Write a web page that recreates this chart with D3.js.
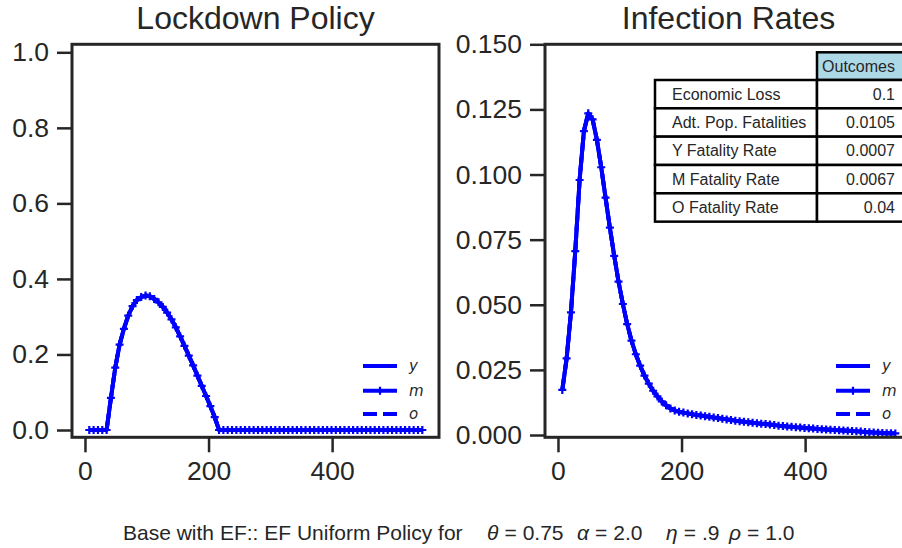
<!DOCTYPE html>
<html><head><meta charset="utf-8">
<script src="https://cdn.jsdelivr.net/npm/d3@7"></script>
<style>body{margin:0;background:#fff}svg{display:block}</style>
</head><body>
<svg id="c" width="902" height="548"></svg>
<script>
// ---- data ----
const days = [7,14,21,28,35,42,49,56,63,70,77,84,91,98,105,112,119,126,133,140,147,154,161,168,175,182,189,196,203,210,217,224,231,238,245,252,259,266,273,280,287,294,301,308,315,322,329,336,343,350,357,364,371,378,385,392,399,406,413,420,427,434,441,448,455,462,469,476,483,490,497,504,511,518,525,532,539,546];
const lockdownY = [0,0,0,0,0,0.085,0.165,0.226,0.268,0.303,0.328,0.344,0.352,0.356,0.354,0.347,0.338,0.326,0.311,0.293,0.272,0.248,0.223,0.197,0.171,0.144,0.117,0.090,0.063,0.034,0,0,0,0,0,0,0,0,0,0,0,0,0,0,0,0,0,0,0,0,0,0,0,0,0,0,0,0,0,0,0,0,0,0,0,0,0,0,0,0,0,0,0,0,0,0,0,0];
const lockdownM = lockdownY;
const lockdownO = lockdownY;
const infectionY = [0.0173,0.0294,0.0471,0.0706,0.0979,0.1167,0.1235,0.1212,0.1133,0.1028,0.0911,0.0796,0.0688,0.0589,0.0503,0.0426,0.0362,0.0310,0.0266,0.0228,0.0197,0.0170,0.0148,0.0129,0.0114,0.0102,0.0094,0.0089,0.0086,0.0083,0.0080,0.0077,0.0075,0.0072,0.0070,0.0067,0.0065,0.0062,0.0060,0.0058,0.0055,0.0053,0.0051,0.0049,0.0047,0.0045,0.0043,0.0042,0.0040,0.0038,0.0036,0.0035,0.0033,0.0032,0.0030,0.0029,0.0027,0.0026,0.0025,0.0023,0.0022,0.0021,0.0020,0.0019,0.0018,0.0017,0.0016,0.0015,0.0014,0.0013,0.0012,0.0011,0.0010,0.0009,0.0008,0.0007,0.0007,0.0006];
const infectionM = infectionY;
const infectionO = infectionY;
const seriesNames = ["y","m","o"];
const xTicks = [0,200,400];
const lockdownTicks = [0,0.2,0.4,0.6,0.8,1.0];
const infectionTicks = [0,0.025,0.05,0.075,0.1,0.125,0.15];
const tableRows = ["Economic Loss","Adt. Pop. Fatalities","Y Fatality Rate","M Fatality Rate","O Fatality Rate"];
const tableValues = ["0.1","0.0105","0.0007","0.0067","0.04"];
const tableHeader = "Outcomes";

// ---- drawing ----
const svg = d3.select("#c");
const INK = "#262626", BLUE = "#0000ff";
const FONT = "'Liberation Sans', Arial, sans-serif";
const TOP = 44.3, BOT = 437.3;
const PLUS = "M-4,0H4M0,-4V4";

function panel(o) {
  const g = svg.append("g");
  const x = d3.scaleLinear().domain([-21, 573]).range([o.x0, o.x1]);
  const y = d3.scaleLinear().domain(o.ydom).range([BOT, TOP]);
  const clipId = "clip" + o.x0;
  g.append("clipPath").attr("id", clipId).append("rect")
    .attr("x", o.x0).attr("y", TOP).attr("width", o.x1 - o.x0).attr("height", BOT - TOP);

  const ya = g.append("g").attr("transform", `translate(${o.x0},0)`)
    .call(d3.axisLeft(y).tickValues(o.yticks).tickFormat(d3.format(o.yfmt)).tickSize(15).tickPadding(8));
  const xa = g.append("g").attr("transform", `translate(0,${BOT})`)
    .call(d3.axisBottom(x).tickValues(xTicks).tickFormat(d3.format("d")).tickSize(15).tickPadding(9));
  [ya, xa].forEach(a => {
    a.select(".domain").remove();
    a.selectAll("line").attr("stroke", INK).attr("stroke-width", 2.5);
    a.selectAll("text").attr("fill", INK).style("font-family", FONT).style("font-size", "26.5px");
  });
  xa.selectAll("text").attr("dy", "0.7em");

  const line = d3.line().x(d => x(d[0])).y(d => y(d[1]));
  const plot = g.append("g").attr("clip-path", `url(#${clipId})`);
  const styles = [{dash: null, marker: false}, {dash: null, marker: true}, {dash: "14,6", marker: false}];
  o.data.forEach((ser, k) => {
    const p = ser.map((v, i) => [days[i], v]);
    plot.append("path").datum(p).attr("d", line).attr("fill", "none")
      .attr("stroke", BLUE).attr("stroke-width", 4).attr("stroke-linejoin", "round")
      .attr("stroke-dasharray", styles[k].dash);
    if (styles[k].marker) {
      plot.selectAll(null).data(p).enter().append("path")
        .attr("transform", d => `translate(${x(d[0])},${y(d[1])})`)
        .attr("d", PLUS).attr("stroke", BLUE).attr("stroke-width", 2.2);
    }
  });

  g.append("rect").attr("x", o.x0).attr("y", TOP).attr("width", o.x1 - o.x0).attr("height", BOT - TOP)
    .attr("fill", "none").attr("stroke", INK).attr("stroke-width", 3);

  g.append("text").attr("x", (o.x0 + o.x1) / 2).attr("y", 29).attr("text-anchor", "middle")
    .attr("fill", INK).style("font-family", FONT).style("font-size", "32px").text(o.title);

  const ly = [366, 390.7, 414];
  seriesNames.forEach((n, k) => {
    const lg = g.append("g");
    lg.append("line").attr("x1", o.lx).attr("x2", o.lx + 34).attr("y1", ly[k]).attr("y2", ly[k])
      .attr("stroke", BLUE).attr("stroke-width", 4).attr("stroke-dasharray", styles[k].dash);
    if (styles[k].marker) {
      lg.append("path").attr("transform", `translate(${o.lx + 17},${ly[k]})`)
        .attr("d", PLUS).attr("stroke", BLUE).attr("stroke-width", 2.2);
    }
    lg.append("text").attr("x", o.lx + 46).attr("y", ly[k]).attr("dy", "0.32em")
      .attr("fill", INK).style("font-family", "'DejaVu Sans', sans-serif").style("font-style", "italic")
      .style("font-size", "15px").text(n);
  });
}

panel({x0: 72, x1: 439, ydom: [-0.0193, 1.0212], yticks: lockdownTicks, yfmt: ".1f",
  data: [lockdownY, lockdownM, lockdownO], title: "Lockdown Policy", lx: 363});
panel({x0: 545, x1: 912, ydom: [-0.00088, 0.15], yticks: infectionTicks, yfmt: ".3f",
  data: [infectionY, infectionM, infectionO], title: "Infection Rates", lx: 836});

// table
const tg = svg.append("g");
const c0 = 655, c1 = 817, c2 = 925, hTop = 52.3, r0 = 80, rh = 28.33;
const TF = "16px";
tg.append("rect").attr("x", c1).attr("y", hTop).attr("width", c2 - c1).attr("height", r0 - hTop)
  .attr("fill", "#add8e6").attr("stroke", "#000").attr("stroke-width", 2.5);
tg.append("text").attr("x", 895).attr("y", (hTop + r0) / 2).attr("dy", "0.35em").attr("text-anchor", "end")
  .attr("fill", INK).style("font-family", FONT).style("font-size", TF).text(tableHeader);
tableRows.forEach((r, i) => {
  const yy = r0 + i * rh;
  tg.append("rect").attr("x", c0).attr("y", yy).attr("width", c1 - c0).attr("height", rh)
    .attr("fill", "#fff").attr("stroke", "#000").attr("stroke-width", 2.5);
  tg.append("rect").attr("x", c1).attr("y", yy).attr("width", c2 - c1).attr("height", rh)
    .attr("fill", "#fff").attr("stroke", "#000").attr("stroke-width", 2.5);
  tg.append("text").attr("x", 672).attr("y", yy + rh / 2).attr("dy", "0.35em")
    .attr("fill", INK).style("font-family", FONT).style("font-size", TF).text(r);
  tg.append("text").attr("x", 895).attr("y", yy + rh / 2).attr("dy", "0.35em").attr("text-anchor", "end")
    .attr("fill", INK).style("font-family", FONT).style("font-size", TF).text(tableValues[i]);
});

// footer
const ft = svg.append("text").attr("y", 540).attr("fill", INK)
  .style("font-family", FONT).style("font-size", "21px");
ft.append("tspan").attr("x", 123).text("Base with EF:: EF Uniform Policy for");
[["θ", 487, "0.75"], ["α", 577, "2.0"], ["η", 666, ".9"], ["ρ", 729, "1.0"]].forEach(([s, xx, v]) => {
  ft.append("tspan").attr("x", xx).style("font-style", "italic").text(s);
  ft.append("tspan").attr("dx", 6).text("=");
  ft.append("tspan").attr("dx", 6).text(v);
});
</script>
</body></html>
